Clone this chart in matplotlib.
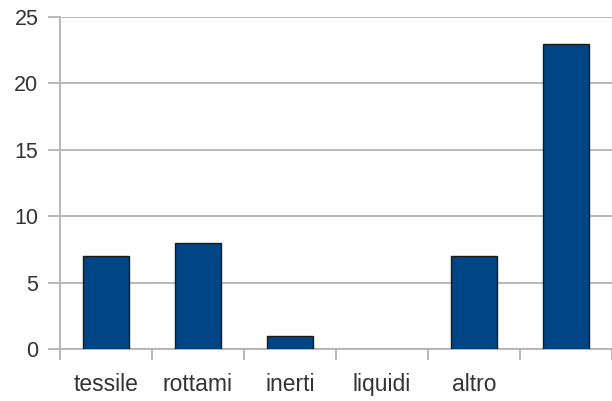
import matplotlib
matplotlib.use("Agg")
import numpy as np
from matplotlib import pyplot as plt
from matplotlib.ticker import FixedLocator

categories = ["tessile", "rottami", "inerti", "liquidi", "altro", ""]
values = [7, 8, 1, 0, 7, 23]
y_ticks = [0, 5, 10, 15, 20, 25]

plt.rcParams["font.family"] = ["Liberation Sans", "DejaVu Sans"]

fig = plt.figure(figsize=(6.12, 4.01), dpi=100)
ax = fig.add_axes([60 / 612, 1 - 349 / 401, 552 / 612, 332 / 401])

x = np.arange(len(categories))
# zero bars draw no outline in the reference
edge_w = [1.0 if v > 0 else 0 for v in values]
ax.bar(x, values, width=0.5, color="#004586", edgecolor="#1a1a1a", linewidth=edge_w, zorder=3)

ax.set_xlim(-0.5, len(categories) - 0.5)
ax.set_ylim(0, 25)
ax.set_yticks(y_ticks)
ax.set_xticks(x)
ax.set_xticklabels(categories)
ax.xaxis.set_minor_locator(FixedLocator(np.arange(-0.5, len(categories), 1.0)))

grid_c = "#b3b3b3"
ax.yaxis.grid(True, color=grid_c, linewidth=1.3, zorder=0)
for s in ["top", "right"]:
    ax.spines[s].set_visible(False)
for s in ["left", "bottom"]:
    ax.spines[s].set_color(grid_c)
    ax.spines[s].set_linewidth(1.3)

ax.tick_params(axis="y", length=8.6, width=1.3, color=grid_c, pad=7, labelsize=15.5, labelcolor="#333333")
ax.tick_params(axis="x", which="major", length=0, pad=17, labelsize=16.5, labelcolor="#333333")
ax.tick_params(axis="x", which="minor", length=8, width=1.3, color=grid_c)

fig.savefig("out.png", dpi=100)
